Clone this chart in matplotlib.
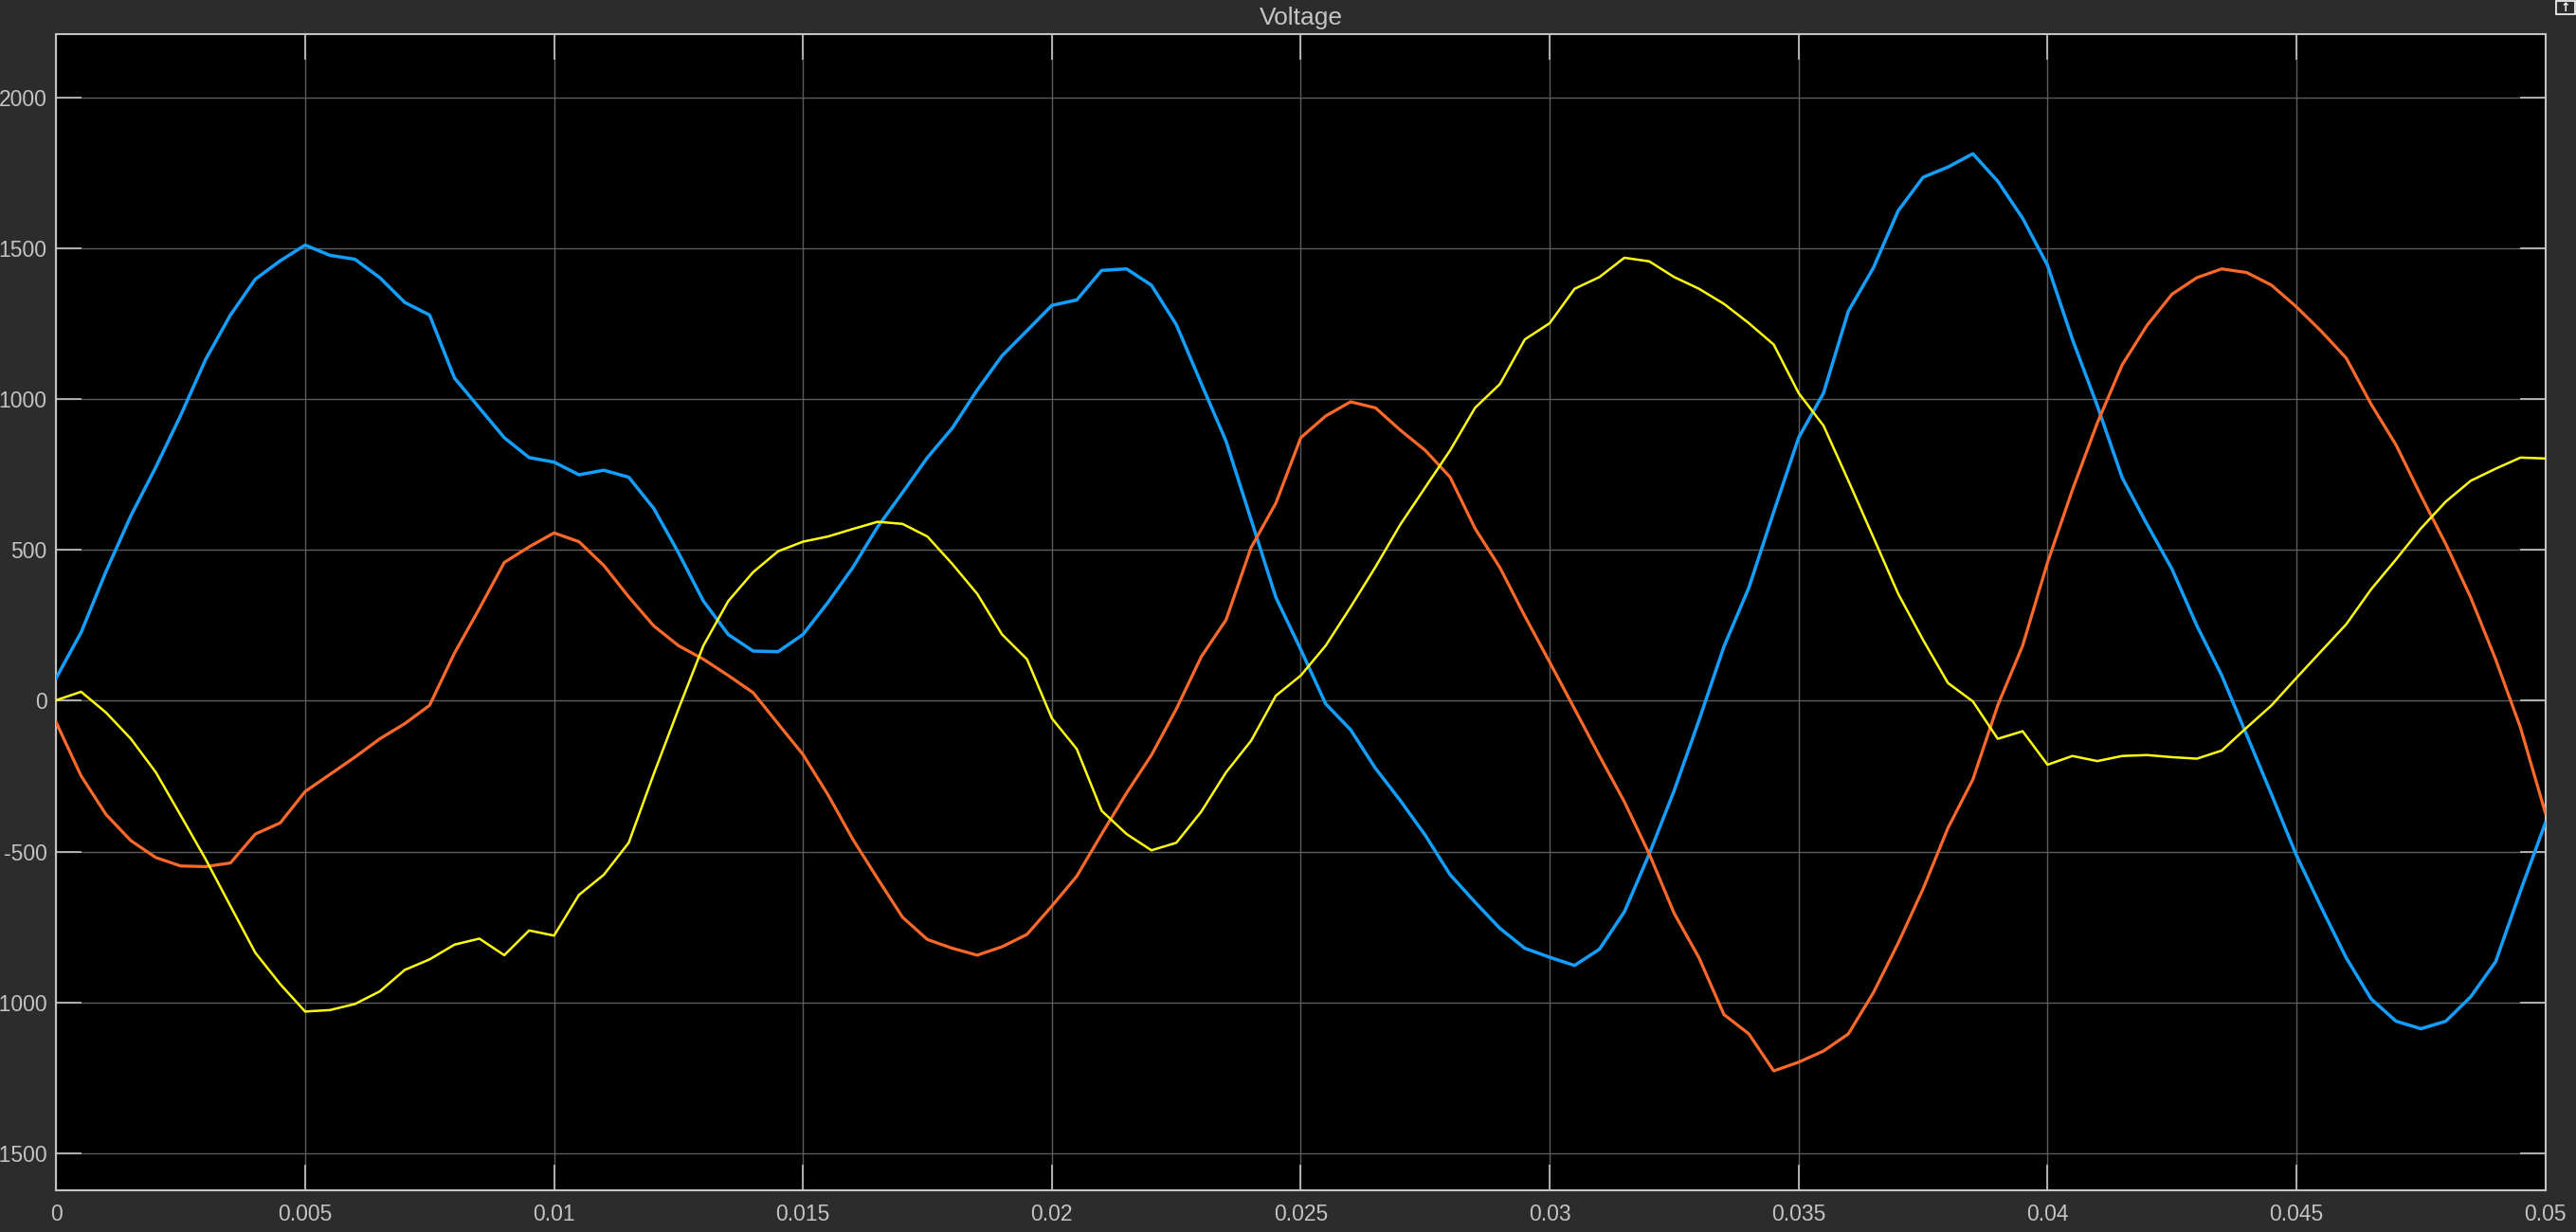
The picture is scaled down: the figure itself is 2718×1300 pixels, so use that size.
import numpy as np
import matplotlib
matplotlib.use("Agg")
import matplotlib.pyplot as plt
from matplotlib.patches import Rectangle

# time axis: one reading every 0.5 ms
t = np.arange(101) * 0.0005

blue = [76, 227, 429, 614, 775, 947, 1132, 1280, 1399, 1460,
        1512, 1478, 1465, 1404, 1322, 1280, 1071, 972, 873, 807,
        792, 750, 765, 742, 639, 491, 331, 220, 165, 163,
        220, 326, 442, 577, 691, 807, 905, 1031, 1145, 1228,
        1312, 1330, 1428, 1433, 1379, 1248, 1053, 861, 602, 343,
        170, -10, -96, -224, -331, -446, -577, -668, -755, -821,
        -851, -878, -824, -700, -508, -298, -64, 180, 375, 627,
        873, 1021, 1293, 1436, 1626, 1737, 1771, 1815, 1724, 1601,
        1445, 1199, 979, 740, 585, 437, 249, 84, -113, -311,
        -513, -686, -853, -989, -1063, -1088, -1063, -982, -866, -631,
        -405]

orange = [-72, -249, -377, -464, -520, -548, -550, -538, -442, -405,
          -301, -244, -187, -126, -76, -15, 158, 306, 459, 511,
          557, 528, 449, 345, 249, 183, 138, 84, 27, -76,
          -178, -311, -459, -590, -718, -792, -821, -844, -816, -775,
          -681, -582, -442, -306, -180, -27, 146, 269, 508, 656,
          873, 945, 992, 972, 898, 831, 742, 572, 442, 281,
          128, -27, -183, -335, -508, -705, -853, -1041, -1105, -1228,
          -1199, -1162, -1105, -969, -804, -624, -422, -261, -15, 183,
          459, 700, 922, 1115, 1246, 1349, 1404, 1433, 1421, 1379,
          1307, 1226, 1137, 984, 849, 681, 520, 343, 138, -89,
          -372]

yellow = [2, 30, -39, -126, -237, -380, -525, -681, -836, -940,
          -1031, -1026, -1006, -964, -893, -858, -809, -789, -844, -762,
          -779, -644, -577, -471, -244, -27, 183, 331, 427, 496,
          528, 545, 570, 594, 587, 545, 454, 355, 220, 138,
          -58, -160, -365, -442, -496, -471, -368, -237, -133, 17,
          84, 183, 311, 444, 585, 708, 831, 972, 1051, 1199,
          1253, 1367, 1406, 1470, 1458, 1406, 1367, 1317, 1253, 1182,
          1021, 913, 730, 543, 355, 202, 59, -2, -126, -101,
          -212, -183, -200, -183, -180, -187, -192, -165, -89, -15,
          76, 165, 254, 370, 469, 572, 661, 730, 770, 807,
          804]

xticks = [0, 0.005, 0.01, 0.015, 0.02, 0.025, 0.03, 0.035, 0.04, 0.045, 0.05]
xticklabels = ['0', '0.005', '0.01', '0.015', '0.02', '0.025', '0.03',
               '0.035', '0.04', '0.045', '0.05']
yticks = [-1500, -1000, -500, 0, 500, 1000, 1500, 2000]

plt.rcParams['font.family'] = ['Liberation Sans', 'DejaVu Sans']
plt.rcParams['axes.unicode_minus'] = False

bg = '#2c2c2c'
fg = '#c4c4c4'

fig = plt.figure(figsize=(27.18, 13.0), dpi=100, facecolor=bg)
ax = fig.add_axes([0.02182, 0.03362, 0.96629, 0.93869])
ax.set_facecolor('black')

ax.plot(t, blue, color='#129fff', lw=2.5, zorder=3)
ax.plot(t, orange, color='#ff6929', lw=2.3, zorder=3)
ax.plot(t, yellow, color='#ffff11', lw=1.8, zorder=3)

ax.set_xlim(0, 0.05)
ax.set_ylim(-1625, 2212)
ax.set_xticks(xticks)
ax.set_xticklabels(xticklabels)
ax.set_yticks(yticks)

ax.grid(True, color='#5c5c5c', lw=1.0)
ax.set_axisbelow(True)
ax.tick_params(direction='in', length=19.5, width=1.2, color=fg,
               labelcolor=fg, labelsize=16.5, top=True, right=True)
ax.tick_params(axis='x', pad=10)
ax.tick_params(axis='y', pad=7)
for s in ax.spines.values():
    s.set_color(fg)
    s.set_linewidth(1.5)

ax.set_title('Voltage', color=fg, fontsize=19, pad=7)

# small undock button in the top right corner
fig.patches.append(Rectangle((2697 / 2718, 1 - 15 / 1300), 20 / 2718, 14 / 1300,
                             transform=fig.transFigure, facecolor=bg,
                             edgecolor='white', lw=1.2))
fig.text(2707 / 2718, 1 - 8 / 1300, '\u2191', color='white', fontsize=9,
         ha='center', va='center', fontweight='bold', family='DejaVu Sans')

fig.savefig('out.png', dpi=100, facecolor=bg)
